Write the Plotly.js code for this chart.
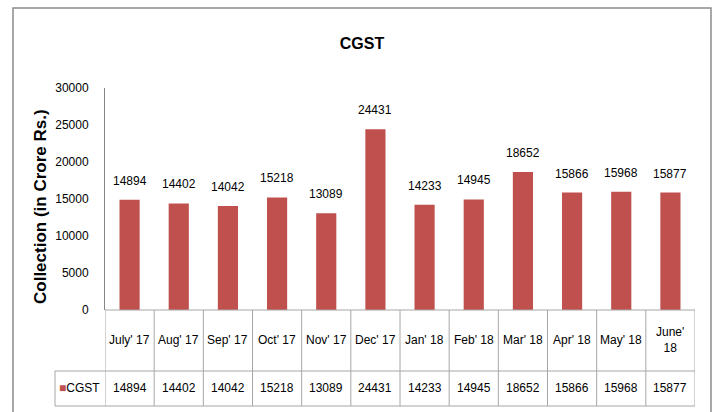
<!DOCTYPE html>
<html><head><meta charset="utf-8">
<script src="https://cdn.plot.ly/plotly-3.0.1.min.js"></script>
<style>html,body{margin:0;padding:0;background:#fff}#chart{width:715px;height:412px}</style>
</head><body><div id="chart"></div>
<script>
const categories = ["July' 17","Aug' 17","Sep' 17","Oct' 17","Nov' 17","Dec' 17","Jan' 18","Feb' 18","Mar' 18","Apr' 18","May' 18","June'<br>18"];
const seriesName = "CGST";
const cgst = [14894,14402,14042,15218,13089,24431,14233,14945,18652,15866,15968,15877];
const yTicks = [0,5000,10000,15000,20000,25000,30000];

const FONT = "Liberation Sans, Arial, sans-serif";
const FS = 12;
const BAR = "#C0504D";
const LINE = "#A6A6A6";
const n = categories.length;
const xs = categories.map((c,i)=>i);

const plotTop = 88, plotBot = 310, H = plotBot - plotTop;
const py = p => (plotBot - p) / H;       // pixel y -> paper y
const pxL = 105, pxR = 695, W = pxR - pxL;
const px = p => (p - pxL) / W;            // pixel x -> paper x

const shapes = [];
shapes.push({type:'rect', xref:'paper', yref:'paper', x0:px(13), x1:px(711), y0:py(420), y1:py(8), line:{color:'#8C8C8C', width:1.5}, layer:'below'});
shapes.push({type:'line', xref:'paper', yref:'paper', x0:0, x1:1, y0:py(310), y1:py(310), line:{color:LINE, width:1}});
shapes.push({type:'line', xref:'paper', yref:'paper', x0:px(55), x1:1, y0:py(371), y1:py(371), line:{color:LINE, width:1}});
shapes.push({type:'line', xref:'paper', yref:'paper', x0:px(55), x1:1, y0:py(406), y1:py(406), line:{color:LINE, width:1}});
shapes.push({type:'line', xref:'paper', yref:'paper', x0:px(55), x1:px(55), y0:py(371), y1:py(406), line:{color:LINE, width:1}});
for (let i = 0; i <= n; i++) {
  shapes.push({type:'line', xref:'x', yref:'paper', x0:i-0.5, x1:i-0.5, y0:py(310), y1:py(406), line:{color:LINE, width:1}});
}

const annotations = [];
cgst.forEach((v,i)=>{
  annotations.push({x:i, y:v, xref:'x', yref:'y', text:String(v), showarrow:false, yanchor:'bottom', yshift:10, font:{family:FONT, size:FS, color:'#000'}});
});
categories.forEach((c,i)=>{
  annotations.push({x:i, y:py(340), xref:'x', yref:'paper', text:c, showarrow:false, yanchor:'middle', font:{family:FONT, size:FS, color:'#000'}});
});
cgst.forEach((v,i)=>{
  annotations.push({x:i, y:py(388), xref:'x', yref:'paper', text:String(v), showarrow:false, yanchor:'middle', font:{family:FONT, size:FS, color:'#000'}});
});
annotations.push({x:px(57), y:py(388), xref:'paper', yref:'paper', xanchor:'left', yanchor:'middle', showarrow:false,
  text:'<span style="color:'+BAR+'">■</span>'+seriesName, font:{family:FONT, size:FS, color:'#000'}});
annotations.push({x:px(40), y:py(207), xref:'paper', yref:'paper', xanchor:'center', yanchor:'middle', showarrow:false, textangle:-90,
  text:'<b>Collection (in Crore Rs.)</b>', font:{family:FONT, size:17, color:'#000'}});

const trace = {type:'bar', x:xs, y:cgst, name:seriesName, marker:{color:BAR}, hoverinfo:'x+y'};

const layout = {
  width:715, height:412,
  margin:{l:pxL, r:715-pxR, t:plotTop, b:412-plotBot, pad:0},
  paper_bgcolor:'#fff', plot_bgcolor:'#fff',
  showlegend:false,
  bargap:0.59,
  title:{text:'<b>CGST</b>', x:362/715, xanchor:'center', y:1-43/412, yanchor:'middle', font:{family:FONT, size:16, color:'#000'}},
  xaxis:{range:[-0.5, n-0.5], showticklabels:false, showgrid:false, zeroline:false, showline:false, ticks:'', fixedrange:true},
  yaxis:{range:[0,30000], tickvals:yTicks, ticktext:yTicks.map(String), showgrid:false, zeroline:false,
    showline:true, linecolor:'#868686', linewidth:1, ticks:'', ticklabelstandoff:13,
    tickfont:{family:FONT, size:FS, color:'#000'}},
  shapes:shapes,
  annotations:annotations
};
Plotly.newPlot('chart', [trace], layout, {displayModeBar:false, staticPlot:true});
</script></body></html>
